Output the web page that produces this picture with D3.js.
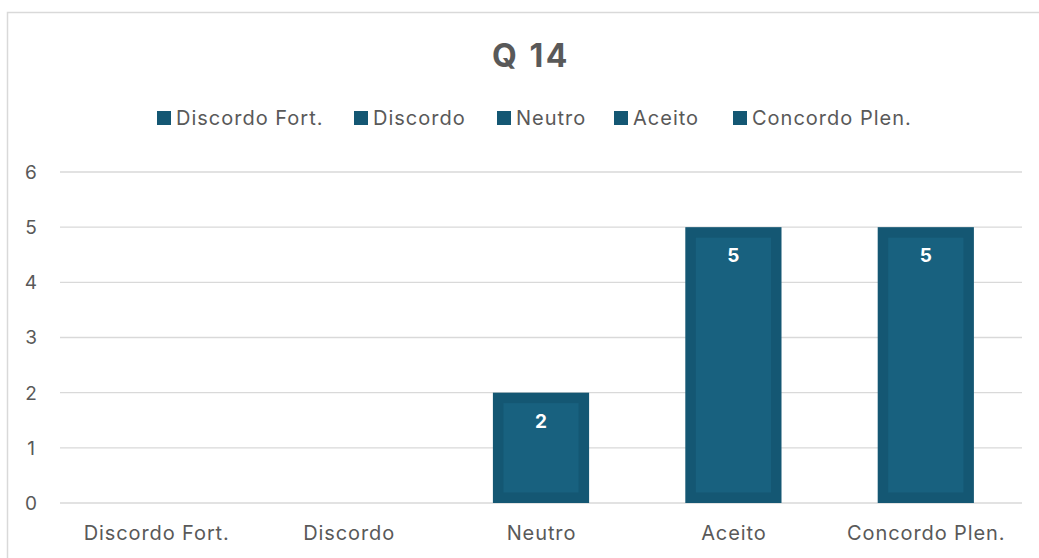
<!DOCTYPE html>
<html><head><meta charset="utf-8">
<script src="https://cdn.jsdelivr.net/npm/d3@7"></script>
<style>body{margin:0;background:#fff;} svg{display:block;} text{font-family:Inter,"Liberation Sans",sans-serif;}</style>
</head><body>
<svg id="c" width="1039" height="558"></svg>
<script>
const title = "Q 14";
const categories = ["Discordo Fort.", "Discordo", "Neutro", "Aceito", "Concordo Plen."];
const values = [0, 0, 2, 5, 5];
const yTicks = [0, 1, 2, 3, 4, 5, 6];

const W = 1039, H = 558;
const m = {left: 60, right: 17, top: 172, bottom: 55};
const svg = d3.select("#c");
const outer = "#145773", inner = "#18617f", txt = "#595959", grid = "#d9d9d9";

svg.append("rect").attr("x", 7.5).attr("y", 12.5).attr("width", W + 10).attr("height", H + 10)
  .attr("fill", "#fff").attr("stroke", grid).attr("stroke-width", 1.5);

const x = d3.scaleBand().domain(categories).range([m.left, W - m.right]).paddingInner(0.5).paddingOuter(0.25);
const y = d3.scaleLinear().domain([0, 6]).range([H - m.bottom, m.top]);

svg.append("g").selectAll("line").data(yTicks).join("line")
  .attr("x1", m.left).attr("x2", W - m.right)
  .attr("y1", d => y(d)).attr("y2", d => y(d))
  .attr("stroke", grid).attr("stroke-width", 1.3);

svg.append("g").selectAll("text").data(yTicks).join("text")
  .attr("x", 31).attr("y", d => y(d)).attr("dy", "0.36em")
  .attr("text-anchor", "middle").attr("fill", txt).attr("font-size", 19).text(d => d);

svg.append("g").selectAll("text").data(categories).join("text")
  .attr("x", d => x(d) + x.bandwidth() / 2 + 0.5).attr("y", H - m.bottom + 30).attr("dy", "0.36em")
  .attr("text-anchor", "middle").attr("fill", txt).attr("font-size", 20)
  .attr("letter-spacing", 0.9).text(d => d);

const data = categories.map((c, i) => ({c, v: values[i]})).filter(d => d.v > 0);
const bars = svg.append("g").selectAll("g").data(data).join("g");
bars.append("rect").attr("x", d => x(d.c)).attr("y", d => y(d.v))
  .attr("width", x.bandwidth()).attr("height", d => y(0) - y(d.v)).attr("fill", outer);
const b = 10.5;
bars.append("rect").attr("x", d => x(d.c) + b).attr("y", d => y(d.v) + b)
  .attr("width", x.bandwidth() - 2 * b).attr("height", d => y(0) - y(d.v) - 2 * b).attr("fill", inner);
bars.append("text").attr("x", d => x(d.c) + x.bandwidth() / 2).attr("y", d => y(d.v) + 28)
  .attr("dy", "0.36em").attr("text-anchor", "middle").attr("fill", "#fff")
  .attr("font-size", 19).attr("font-weight", "bold").text(d => d.v);

svg.append("text").attr("x", 531).attr("y", 55).attr("dy", "0.36em").attr("text-anchor", "middle")
  .attr("fill", txt).attr("font-size", 32).attr("font-weight", "bold")
  .attr("letter-spacing", 2.5).text(title);

const legX = [157, 354, 497, 614, 733];
const leg = svg.append("g").selectAll("g").data(categories).join("g")
  .attr("transform", (d, i) => `translate(${legX[i]},118)`);
leg.append("rect").attr("x", 0).attr("y", -7).attr("width", 14).attr("height", 14).attr("fill", outer);
leg.append("text").attr("x", 19).attr("y", 0).attr("dy", "0.36em").attr("fill", txt)
  .attr("font-size", 20).attr("letter-spacing", 1).text(d => d);
</script>
</body></html>
